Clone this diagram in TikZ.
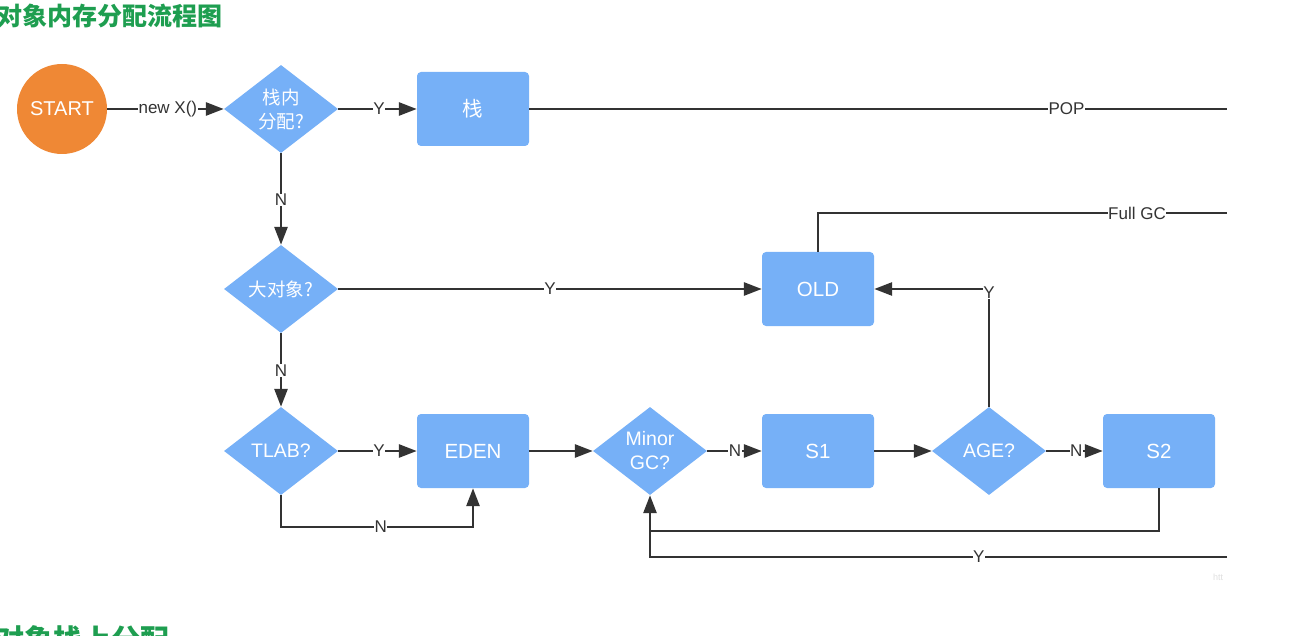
\documentclass[tikz,border=0pt]{standalone}
\usepackage{fontspec}
\setmainfont{Liberation Sans}
\newfontfamily\cjk{Noto Sans CJK SC}
\usetikzlibrary{shapes.geometric,arrows.meta}
\definecolor{boxblue}{RGB}{118,176,247}
\definecolor{startorange}{RGB}{239,136,53}
\definecolor{linegray}{RGB}{51,51,51}
\definecolor{titlegreen}{RGB}{30,158,80}
\tikzset{
  procbox/.style={draw=none,fill=boxblue,rounded corners=4pt,minimum width=112pt,minimum height=74pt,text=white,font=\fontsize{20.5}{24}\selectfont,inner sep=0pt},
  decision/.style={diamond,draw=none,fill=boxblue,minimum width=114pt,minimum height=88pt,aspect=1.3,inner sep=0pt,text=white,font=\fontsize{19.5}{24}\selectfont,align=center},
  startnode/.style={circle,draw=none,fill=startorange,minimum size=90pt,text=white,font=\fontsize{20}{24}\selectfont,inner sep=0pt},
  conn/.style={draw=linegray,line width=2.8pt},
  arr/.style={conn,-{Triangle[length=18pt,width=13pt]}},
  elabel/.style={fill=white,inner sep=0.5pt,text=linegray,font=\fontsize{17}{19}\selectfont},
  heading/.style={text=titlegreen,font=\cjk\bfseries,inner sep=0pt}
}
\begin{document}
\begin{tikzpicture}[x=1pt,y=-1pt]
\useasboundingbox (0,0) rectangle (1314,636);
% headings
\node[heading,anchor=west,font=\cjk\bfseries\fontsize{25}{27}\selectfont] (title) at (-3,15.5) {对象内存分配流程图};
\node[heading,anchor=north west,font=\cjk\bfseries\fontsize{29}{31}\selectfont] (title2) at (-5,625) {对象栈上分配};
\node[text=gray!25,font=\fontsize{9}{10}\selectfont,inner sep=0pt,anchor=west] (wm) at (1213,577) {htt};
% nodes
\node[startnode] (start) at (62,109) {START};
\node[decision,font=\cjk\fontsize{18.5}{24}\selectfont] (d1) at (281,109) {栈内\\分配?};
\node[procbox,font=\cjk\fontsize{20.5}{24}\selectfont] (stack) at (473,109) {栈};
\node[decision,font=\cjk\fontsize{18.5}{24}\selectfont] (d2) at (281,289) {大对象?};
\node[procbox] (old) at (818,289) {OLD};
\node[decision] (d3) at (281,451) {TLAB?};
\node[procbox] (eden) at (473,451) {EDEN};
\node[decision] (mgc) at (650,451) {Minor\\GC?};
\node[procbox] (s1) at (818,451) {S1};
\node[decision] (age) at (989,451) {AGE?};
\node[procbox] (s2) at (1159,451) {S2};
% coordinates
\coordinate (popend) at (1227,109);
\coordinate (fullend) at (1227,213);
\coordinate (c1) at (281,527);
\coordinate (c2) at (473,527);
\coordinate (c3) at (1159,531);
\coordinate (c4) at (650,531);
\coordinate (c5) at (650,557);
\coordinate (yend) at (1227,557);
% connectors
\draw[arr] (start) -- node[elabel,pos=0.52]{new X()} (d1);
\draw[arr] (d1) -- node[elabel,pos=0.52]{Y} (stack);
\draw[conn] (stack) -- node[elabel,pos=0.77]{POP} (popend);
\draw[arr] (d1) -- node[elabel,pos=0.51]{N} (d2);
\draw[arr] (d2) -- node[elabel,pos=0.5]{Y} (old);
\draw[conn] (old.north) |- node[elabel,pos=0.89]{Full GC} (fullend);
\draw[arr] (d2) -- node[elabel,pos=0.51]{N} (d3);
\draw[arr] (d3) -- node[elabel,pos=0.52]{Y} (eden);
\draw[arr] (d3.south) -- (c1) -- node[elabel,pos=0.52]{N} (c2) -- (eden.south);
\draw[arr] (eden) -- (mgc);
\draw[arr] (mgc) -- node[elabel,pos=0.51]{N} (s1);
\draw[arr] (s1) -- (age);
\draw[arr] (age) -- node[elabel,pos=0.53]{N} (s2);
\draw[arr] (age.north) |- node[elabel,pos=0.485]{Y} (old.east);
\draw[arr] (s2.south) -- (c3) -- (c4) -- (mgc.south);
\draw[conn] (yend) -- node[elabel,pos=0.43]{Y} (c5) -- (c4);
\end{tikzpicture}
\end{document}
